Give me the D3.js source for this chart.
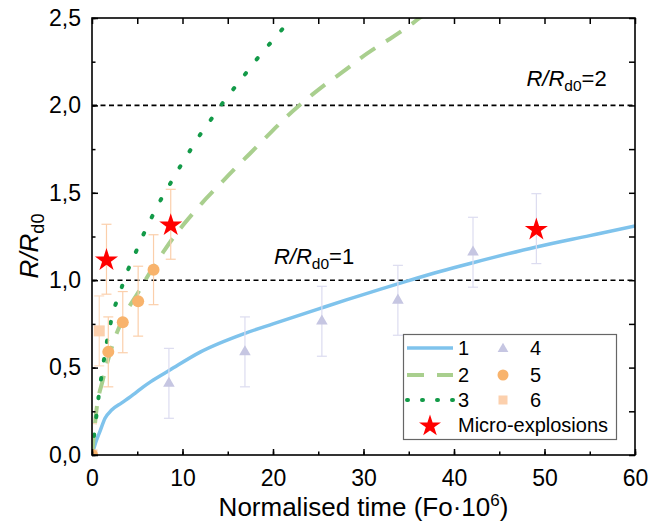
<!DOCTYPE html>
<html>
<head>
<meta charset="utf-8">
<script src="https://cdn.jsdelivr.net/npm/d3@7"></script>
<style>
  body { margin: 0; background: #fff; }
  svg { font-family: "Liberation Sans", Arial, sans-serif; }
</style>
</head>
<body>
<script>
// model curves
const curve1 = [[0,0],[0.4,0.07],[0.88,0.135],[1.44,0.21],[2.17,0.257],[3.28,0.298],[4.75,0.353],[5.67,0.39],[6.5,0.42],[8.6,0.486],[12,0.59],[16.9,0.696],[20,0.75],[25.3,0.84],[28.1,0.887],[34.8,0.995],[38.45,1.05],[42.1,1.1],[49.1,1.19],[55,1.255],[60,1.31]];
const curve2 = [[0,0],[0.15,0.08],[0.5,0.26],[1.2,0.43],[2.15,0.61],[3.5,0.79],[5.1,0.93],[6.0,1.01],[6.8,1.077],[7.9,1.163],[9,1.245],[9.9,1.305],[11.2,1.385],[12.3,1.45],[13.5,1.515],[14.7,1.58],[16,1.65],[17.46,1.725],[18.7,1.79],[19.85,1.85],[21.3,1.925],[22.8,1.995],[24.3,2.06],[25.9,2.125],[27.4,2.18],[28.7,2.23],[29.8,2.275],[31.5,2.335],[32.9,2.38],[34.9,2.45],[36.2,2.5],[37,2.53]];
const curve3 = [[0,0],[0.25,0.12],[0.52,0.24],[0.77,0.35],[1.07,0.46],[1.8,0.69],[2.36,0.82],[3.09,0.93],[3.83,1.04],[4.75,1.15],[5.67,1.26],[6.6,1.36],[7.6,1.46],[8.73,1.56],[9.8,1.655],[10.94,1.75],[12.04,1.84],[13.3,1.93],[14.6,2.025],[15.88,2.11],[17.17,2.195],[18.45,2.28],[19.85,2.365],[21.25,2.45],[22.2,2.51]];

// experimental points: x, y, error
const tri4X = [8.5, 16.9, 25.4, 33.8, 42.1];
const tri4Y = [0.41, 0.59, 0.765, 0.885, 1.16];
const tri4Err = [0.2, 0.2, 0.2, 0.2, 0.2];

const circ5X = [0, 1.8, 3.4, 5.1, 6.8];
const circ5Y = [0, 0.59, 0.76, 0.88, 1.06];
const circ5Err = [0, 0.2, 0.175, 0.2, 0.2];

const sq6X = [0, 0.8];
const sq6Y = [0, 0.71];
const sq6Err = [0.18, 0.2];

const starX = [1.6, 8.7, 49.1];
const starY = [1.12, 1.32, 1.295];
const starErr = [0.2, 0.2, 0.2];
const starErrColor = ['#fbcfab', '#fbcfab', '#dcdcf0'];

const xTicks = [0, 10, 20, 30, 40, 50, 60];
const yTicks = [0, 0.5, 1, 1.5, 2, 2.5];
const refLines = [1, 2];

const width = 650, height = 528;
const pLeft = 92, pRight = 635, pTop = 18, pBottom = 455;

const svg = d3.select('body').append('svg')
  .attr('width', width)
  .attr('height', height);

const x = d3.scaleLinear().domain([0, 60]).range([pLeft, pRight]);
const y = d3.scaleLinear().domain([0, 2.5]).range([pBottom, pTop]);

svg.append('clipPath').attr('id', 'plot')
  .append('rect')
  .attr('x', pLeft).attr('y', pTop)
  .attr('width', pRight - pLeft).attr('height', pBottom - pTop);

const plot = svg.append('g').attr('clip-path', 'url(#plot)');

// dashed reference lines
plot.selectAll('.ref')
  .data(refLines)
  .enter()
  .append('line')
  .attr('class', 'ref')
  .attr('x1', pLeft).attr('x2', pRight)
  .attr('y1', d => y(d)).attr('y2', d => y(d))
  .attr('stroke', '#000')
  .attr('stroke-width', 1.6)
  .attr('stroke-dasharray', '5,3.5');

const line = d3.line()
  .x(d => x(d[0]))
  .y(d => y(d[1]))
  .curve(d3.curveMonotoneX);

const styles = {
  c1: { color: '#7fc3ec', w: 3.5, dash: null, cap: 'butt' },
  c2: { color: '#a9cf8e', w: 4, dash: '18,13', cap: 'butt' },
  c3: { color: '#139a48', w: 4, dash: '1.5,17.5', cap: 'round' }
};

[[curve1, styles.c1], [curve2, styles.c2], [curve3, styles.c3]].forEach(([data, s]) => {
  plot.append('path')
    .datum(data)
    .attr('d', line)
    .attr('fill', 'none')
    .attr('stroke', s.color)
    .attr('stroke-width', s.w)
    .attr('stroke-linecap', s.cap)
    .attr('stroke-dasharray', s.dash);
});

// error bars
function errorBars(xs, ys, errs, color) {
  const pts = xs.map((d, i) => ({ x: d, y: ys[i], e: errs[i], c: Array.isArray(color) ? color[i] : color }))
    .filter(d => d.e > 0);
  const g = plot.append('g')
    .attr('fill', 'none')
    .attr('stroke-width', 1.2);
  g.selectAll('.bar').data(pts).enter().append('line')
    .attr('x1', d => x(d.x)).attr('x2', d => x(d.x))
    .attr('y1', d => y(d.y - d.e)).attr('y2', d => y(d.y + d.e))
    .attr('stroke', d => d.c);
  g.selectAll('.capTop').data(pts).enter().append('line')
    .attr('x1', d => x(d.x) - 5).attr('x2', d => x(d.x) + 5)
    .attr('y1', d => y(d.y + d.e)).attr('y2', d => y(d.y + d.e))
    .attr('stroke', d => d.c);
  g.selectAll('.capBot').data(pts).enter().append('line')
    .attr('x1', d => x(d.x) - 5).attr('x2', d => x(d.x) + 5)
    .attr('y1', d => y(d.y - d.e)).attr('y2', d => y(d.y - d.e))
    .attr('stroke', d => d.c);
}

errorBars(sq6X, sq6Y, sq6Err, '#fcdcc2');
errorBars(circ5X, circ5Y, circ5Err, '#fbcfab');
errorBars(tri4X, tri4Y, tri4Err, '#dcdcf0');
errorBars(starX, starY, starErr, starErrColor);

const triColor = '#c6c6e2', circColor = '#f8b36c', sqColor = '#fcd0ad', starColor = '#ff0000';

plot.selectAll('.sq')
  .data(sq6X)
  .enter()
  .append('rect')
  .attr('x', d => x(d) - 5.5)
  .attr('y', (d, i) => y(sq6Y[i]) - 5.5)
  .attr('width', 11).attr('height', 11)
  .attr('fill', sqColor);

plot.selectAll('.circ')
  .data(circ5X)
  .enter()
  .append('circle')
  .attr('cx', d => x(d))
  .attr('cy', (d, i) => y(circ5Y[i]))
  .attr('r', 6)
  .attr('fill', circColor);

const tri = d3.symbol(d3.symbolTriangle, 58);
plot.selectAll('.tri')
  .data(tri4X)
  .enter()
  .append('path')
  .attr('d', tri)
  .attr('transform', (d, i) => `translate(${x(d)},${y(tri4Y[i])})`)
  .attr('fill', triColor);

const star = d3.symbol(d3.symbolStar, 165);
plot.selectAll('.star')
  .data(starX)
  .enter()
  .append('path')
  .attr('d', star)
  .attr('transform', (d, i) => `translate(${x(d)},${y(starY[i]) + 1})`)
  .attr('fill', starColor);

// axes
const fmtY = d => d3.format('.1f')(d).replace('.', ',');

function styleAxis(g) {
  g.select('.domain').remove();
  g.selectAll('line').attr('stroke', '#000').attr('stroke-width', 1.5);
  g.selectAll('text').attr('font-size', 23).attr('fill', '#000')
    .attr('font-family', '"Liberation Sans", Arial, sans-serif');
}

const xMinor = d3.range(0, 61, 5);
const yMinor = d3.range(0, 2.51, 0.25);

svg.append('g').attr('transform', `translate(0,${pBottom})`)
  .call(d3.axisBottom(x).tickValues(xTicks).tickFormat(d3.format('d')).tickSizeInner(-6).tickSizeOuter(0).tickPadding(15))
  .call(styleAxis);
svg.append('g').attr('transform', `translate(0,${pBottom})`)
  .call(d3.axisBottom(x).tickValues(xMinor).tickFormat('').tickSizeInner(-3.5).tickSizeOuter(0))
  .call(styleAxis);
svg.append('g').attr('transform', `translate(0,${pTop})`)
  .call(d3.axisTop(x).tickValues(xMinor).tickFormat('').tickSizeInner(-6).tickSizeOuter(0))
  .call(styleAxis);

svg.append('g').attr('transform', `translate(${pLeft},0)`)
  .call(d3.axisLeft(y).tickValues(yTicks).tickFormat(fmtY).tickSizeInner(-6).tickSizeOuter(0).tickPadding(11))
  .call(styleAxis);
svg.append('g').attr('transform', `translate(${pLeft},0)`)
  .call(d3.axisLeft(y).tickValues(yMinor).tickFormat('').tickSizeInner(-3.5).tickSizeOuter(0))
  .call(styleAxis);
svg.append('g').attr('transform', `translate(${pRight},0)`)
  .call(d3.axisRight(y).tickValues(yMinor).tickFormat('').tickSizeInner(-6).tickSizeOuter(0))
  .call(styleAxis);

// frame
svg.append('rect')
  .attr('x', pLeft).attr('y', pTop)
  .attr('width', pRight - pLeft).attr('height', pBottom - pTop)
  .attr('fill', 'none')
  .attr('stroke', '#000')
  .attr('stroke-width', 1.6);

// axis titles
const xTitle = svg.append('text')
  .attr('x', (pLeft + pRight) / 2)
  .attr('y', 516)
  .attr('text-anchor', 'middle')
  .attr('font-size', 26);
xTitle.append('tspan').text('Normalised time (Fo\u00b710');
xTitle.append('tspan').attr('font-size', 17).attr('dy', -10).text('6');
xTitle.append('tspan').attr('dy', 10).text(')');

const yTitle = svg.append('text')
  .attr('transform', 'translate(38,246) rotate(-90)')
  .attr('text-anchor', 'middle')
  .attr('font-size', 26);
yTitle.append('tspan').attr('font-style', 'italic').text('R/R');
yTitle.append('tspan').attr('font-size', 18).attr('dy', 6).text('d0');

// annotations
function annotate(px, py, value) {
  const t = svg.append('text').attr('x', px).attr('y', py).attr('font-size', 22);
  t.append('tspan').attr('font-style', 'italic').text('R/R');
  t.append('tspan').attr('font-size', 15.5).attr('dy', 5).text('d0');
  t.append('tspan').attr('dy', -5).text('=' + value);
}
annotate(x(48), y(2) - 19, 2);
annotate(x(20.1), y(1) - 16, 1);

// legend
const legend = svg.append('g');
legend.append('rect')
  .attr('x', 403.5).attr('y', 334.5)
  .attr('width', 213).attr('height', 105)
  .attr('fill', '#fff')
  .attr('stroke', '#666')
  .attr('stroke-width', 1.2);

const rows = [348, 375, 400, 425];
const lineItems = [['1', styles.c1], ['2', styles.c2], ['3', styles.c3]];
lineItems.forEach(([label, s], i) => {
  legend.append('line')
    .attr('x1', 407).attr('x2', 453)
    .attr('y1', rows[i]).attr('y2', rows[i])
    .attr('stroke', s.color)
    .attr('stroke-width', s.w)
    .attr('stroke-linecap', s.cap)
    .attr('stroke-dasharray', i === 1 ? '17,13' : (i === 2 ? '1,14' : null));
  legend.append('text')
    .attr('x', 458).attr('y', rows[i] + 7)
    .attr('font-size', 20)
    .text(label);
});

legend.append('path').attr('d', d3.symbol(d3.symbolTriangle, 50))
  .attr('transform', `translate(503,${rows[0] + 1})`).attr('fill', triColor);
legend.append('circle').attr('cx', 503).attr('cy', rows[1]).attr('r', 5.5)
  .attr('fill', circColor);
legend.append('rect').attr('x', 498.5).attr('y', rows[2] - 4.5)
  .attr('width', 9).attr('height', 9).attr('fill', sqColor);
['4', '5', '6'].forEach((label, i) => {
  legend.append('text')
    .attr('x', 530).attr('y', rows[i] + 7)
    .attr('font-size', 20)
    .text(label);
});

legend.append('path').attr('d', d3.symbol(d3.symbolStar, 150))
  .attr('transform', `translate(430,${rows[3] + 1})`).attr('fill', starColor);
legend.append('text')
  .attr('x', 458).attr('y', rows[3] + 7)
  .attr('font-size', 20)
  .text('Micro-explosions');
</script>
</body>
</html>
